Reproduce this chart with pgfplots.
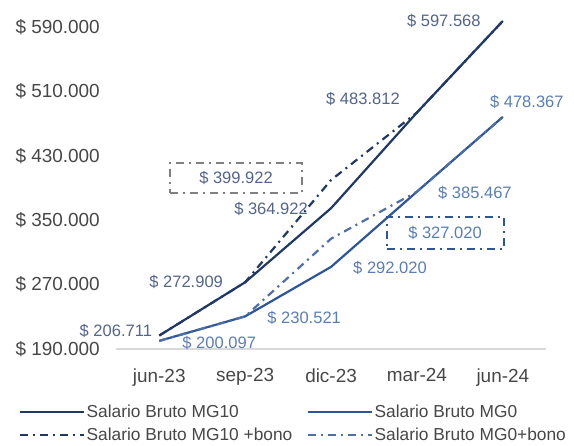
\documentclass[border=0pt]{standalone}
\usepackage{pgfplots}
\pgfplotsset{compat=1.18}
\usepackage{fontspec}
\setmainfont{Liberation Sans}

\definecolor{tickgray}{HTML}{474747}
\definecolor{navy}{HTML}{1F3864}
\definecolor{mgblue}{HTML}{2F5597}
\definecolor{labnavy}{HTML}{52658A}
\definecolor{labblue}{HTML}{5A7DB6}
\definecolor{boxgray}{HTML}{808080}

\begin{document}
\begin{tikzpicture}
\useasboundingbox (-116.3bp,-97bp) rectangle (457.7bp,349bp);
\begin{axis}[
    scale only axis,
    width=429.5bp, height=330bp,
    xmin=-0.5, xmax=4.5,
    ymin=190000, ymax=600000,
    clip=false,
    axis x line*=bottom,
    axis y line*=left,
    y axis line style={draw=none},
    x axis line style={draw=black!15, line width=1.5bp},
    major tick length=0pt,
    scaled y ticks=false,
    xtick={0,1,2,3,4},
    xticklabels={jun-23,sep-23,dic-23,mar-24,jun-24},
    ytick={190000,270000,350000,430000,510000,590000},
    yticklabels={\$ 190.000,\$ 270.000,\$ 350.000,\$ 430.000,\$ 510.000,\$ 590.000},
    tick label style={font=\fontsize{19}{22}\selectfont, text=tickgray},
    xticklabel style={yshift=-16bp},
    yticklabel style={xshift=-13bp},
    legend columns=2,
    legend cell align=left,
    legend image code/.code={\draw[#1] (0bp,0bp) -- (64bp,0bp);},
    legend style={at={(-0.2282,-0.1640)}, anchor=north west, draw=none, fill=none,
        inner sep=0pt, row sep=5bp, font=\fontsize{17.4}{20}\selectfont, text=tickgray,
        /tikz/every even column/.append style={column sep=12bp}},
    every axis plot/.append style={line width=2.2bp},
]
\addplot[navy, no marks] coordinates {
    (0,206711) (1,272909) (2,364922) (3,483812) (4,597568)
};
\addlegendentry{Salario Bruto MG10}
\addplot[mgblue, no marks] coordinates {
    (0,200097) (1,230521) (2,292020) (3,385467) (4,478367)
};
\addlegendentry{Salario Bruto MG0}
\addplot[navy, no marks, dash pattern=on 8bp off 5bp on 2bp off 5bp] coordinates {
    (0,206711) (1,272909) (2,399922) (3,483812) (4,597568)
};
\addlegendentry{Salario Bruto MG10 +bono}
\addplot[mgblue!85!white, no marks, dash pattern=on 8bp off 5bp on 2bp off 5bp] coordinates {
    (0,200097) (1,230521) (2,327020) (3,385467) (4,478367)
};
\addlegendentry{Salario Bruto MG0+bono}

% data labels
\begin{scope}[every node/.style={font=\fontsize{16.6}{19}\selectfont, inner sep=0pt}]
\node[anchor=east, text=labnavy, xshift=-7bp, yshift=5bp] at (axis cs:0,206711) {\$ 206.711};
\node[anchor=east, text=labnavy, xshift=-22bp] at (axis cs:1,272909) {\$ 272.909};
\node[anchor=east, text=labnavy, xshift=-23bp, yshift=-1bp] at (axis cs:2,364922) {\$ 364.922};
\node[anchor=east, text=labnavy, xshift=-17bp, yshift=14bp] at (axis cs:3,483812) {\$ 483.812};
\node[anchor=east, text=labnavy, xshift=-22bp] at (axis cs:4,597568) {\$ 597.568};
\node[anchor=west, text=labblue, xshift=23bp, yshift=-2bp] at (axis cs:0,200097) {\$ 200.097};
\node[anchor=west, text=labblue, xshift=22bp, yshift=-2bp] at (axis cs:1,230521) {\$ 230.521};
\node[anchor=west, text=labblue, xshift=22bp, yshift=-1bp] at (axis cs:2,292020) {\$ 292.020};
\node[anchor=west, text=labblue, xshift=21bp, yshift=-1bp] at (axis cs:3,385467) {\$ 385.467};
\node[anchor=west, text=labblue, xshift=-13bp, yshift=15bp] at (axis cs:4,478367) {\$ 478.367};
\node[text=labnavy, draw=boxgray, line width=2bp, dash pattern=on 8bp off 5bp on 2bp off 5bp,
      minimum width=132bp, minimum height=30bp, xshift=-95bp, yshift=2bp] at (axis cs:2,399922) {\$ 399.922};
\node[text=labblue, draw=mgblue, line width=2bp, dash pattern=on 8bp off 5bp on 2bp off 5bp,
      minimum width=117bp, minimum height=32bp, xshift=114bp, yshift=6bp] at (axis cs:2,327020) {\$ 327.020};
\end{scope}
\end{axis}
\end{tikzpicture}
\end{document}
